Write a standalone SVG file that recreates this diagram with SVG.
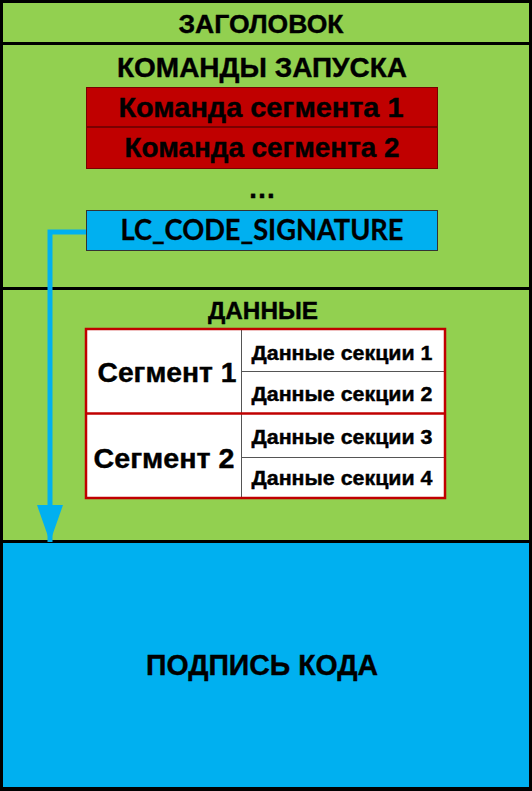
<svg xmlns="http://www.w3.org/2000/svg" width="532" height="791" viewBox="0 0 532 791">
<style>
.sec{fill:#92d050;stroke:#000;stroke-width:3}
text{font-family:'Liberation Sans',Arial,Helvetica,sans-serif;font-weight:700;fill:#000;text-anchor:middle;stroke:#000;stroke-width:0.4}
text.lc{font-family:Lato,'Open Sans',sans-serif;stroke-width:0.3}
.red{fill:#c00000;stroke:#7a0000;stroke-width:1}
.cell{fill:#fff;stroke:#555;stroke-width:1}
</style>
<defs>
<marker id="ah" markerUnits="userSpaceOnUse" markerWidth="37" markerHeight="26" refX="37" refY="13" orient="auto" viewBox="0 0 37 26">
<path d="M0,0 L37,13 L0,26 Z" fill="#00b0f0"/>
</marker>
</defs>
<rect width="532" height="791" fill="#000"/>
<g id="header">
<rect class="sec" x="1.5" y="1.5" width="529" height="42"/>
<text x="261" y="33" font-size="26" textLength="165" lengthAdjust="spacingAndGlyphs">ЗАГОЛОВОК</text>
</g>
<g id="load-commands">
<rect class="sec" x="1.5" y="43.5" width="529" height="245"/>
<text x="262" y="77" font-size="28" textLength="290" lengthAdjust="spacingAndGlyphs">КОМАНДЫ ЗАПУСКА</text>
</g>
<g id="cmd1">
<rect class="red" x="86.5" y="87.5" width="351" height="39"/>
<text x="261" y="117" font-size="27" textLength="285" lengthAdjust="spacingAndGlyphs">Команда сегмента 1</text>
</g>
<g id="cmd2">
<rect class="red" x="86.5" y="127.5" width="351" height="41"/>
<text x="262" y="157" font-size="27" textLength="275" lengthAdjust="spacingAndGlyphs">Команда сегмента 2</text>
</g>
<g id="ellipsis">
<text x="262" y="198" font-size="28">…</text>
</g>
<g id="lc-code-signature">
<rect x="86.5" y="210.5" width="351" height="40" fill="#00b0f0" stroke="#333" stroke-width="1"/>
<text class="lc" x="262" y="240" font-size="28" textLength="283" lengthAdjust="spacingAndGlyphs">LC_CODE_SIGNATURE</text>
</g>
<g id="data">
<rect class="sec" x="1.5" y="288.5" width="529" height="253"/>
<text x="263" y="319" font-size="23" textLength="110" lengthAdjust="spacingAndGlyphs">ДАННЫЕ</text>
</g>
<g id="segment1">
<rect class="cell" x="86.5" y="329.5" width="155" height="84"/>
<text x="167" y="382" font-size="27" textLength="139" lengthAdjust="spacingAndGlyphs">Сегмент 1</text>
</g>
<g id="sec1">
<rect class="cell" x="241.5" y="329.5" width="203" height="42"/>
<text x="342" y="360" font-size="20" textLength="181" lengthAdjust="spacingAndGlyphs">Данные секции 1</text>
</g>
<g id="sec2">
<rect class="cell" x="241.5" y="371.5" width="203" height="42"/>
<text x="342" y="401" font-size="20" textLength="181" lengthAdjust="spacingAndGlyphs">Данные секции 2</text>
</g>
<g id="segment2">
<rect class="cell" x="86.5" y="413.5" width="155" height="84"/>
<text x="164" y="468" font-size="27" textLength="141" lengthAdjust="spacingAndGlyphs">Сегмент 2</text>
</g>
<g id="sec3">
<rect class="cell" x="241.5" y="413.5" width="203" height="44"/>
<text x="342" y="444" font-size="20" textLength="181" lengthAdjust="spacingAndGlyphs">Данные секции 3</text>
</g>
<g id="sec4">
<rect class="cell" x="241.5" y="457.5" width="203" height="40"/>
<text x="342" y="485" font-size="20" textLength="181" lengthAdjust="spacingAndGlyphs">Данные секции 4</text>
</g>
<g id="table-border">
<rect x="86" y="329" width="359" height="169" fill="none" stroke="#c00000" stroke-width="2.5"/>
<line x1="86" y1="413.5" x2="445" y2="413.5" stroke="#c00000" stroke-width="2.5"/>
</g>
<g id="code-signature">
<rect x="1.5" y="541.5" width="529" height="247" fill="#00b0f0" stroke="#000" stroke-width="3"/>
<text x="262" y="675" font-size="29" textLength="232" lengthAdjust="spacingAndGlyphs">ПОДПИСЬ КОДА</text>
</g>
<g id="connectors">
<path d="M86,232 H50 V542" fill="none" stroke="#00b0f0" stroke-width="5" marker-end="url(#ah)"/>
</g>
</svg>
